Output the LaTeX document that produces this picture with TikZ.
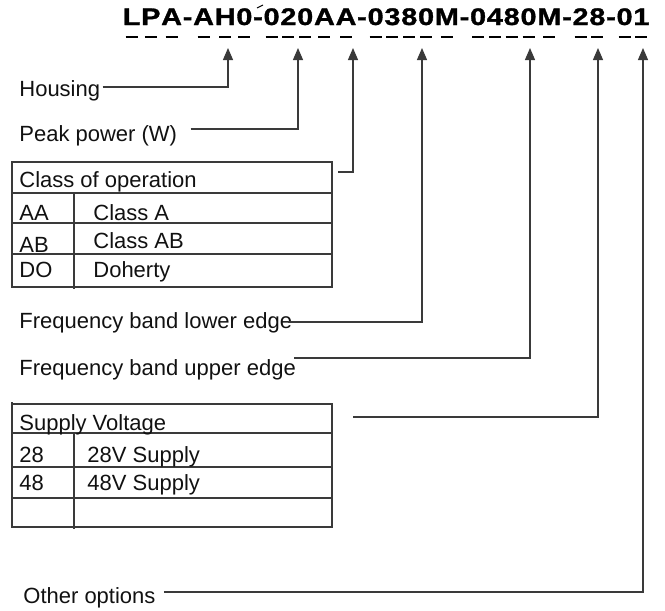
\documentclass[tikz,border=0pt]{standalone}
\usepackage{fontspec}
\setmainfont{Liberation Sans}[BoldFont={Liberation Sans Bold}]
\newfontfamily\pnfont{Liberation Sans Bold}[FakeBold=1.2]
\usetikzlibrary{arrows.meta,calc}
\definecolor{ink}{HTML}{111111}
\definecolor{rule}{HTML}{3A3A3A}
\tikzset{
  % plain label, placed by its baseline
  lbl/.style   = {inner sep=0pt, anchor=base west, font=\fontsize{11}{13}\selectfont, text=ink},
  tchar/.style = {inner sep=0pt, anchor=base west, font=\pnfont\fontsize{12}{14}\selectfont, text=black},
  ulbar/.style = {line width=1pt, black},
  lead/.style  = {-{Triangle[length=6pt,width=5pt]}, line width=0.6pt, rule},
  grid/.style  = {line width=0.6pt, rule},
}

\begin{document}
\begin{tikzpicture}[x=0.5pt,y=-0.5pt]
\useasboundingbox (0,0) rectangle (665,611);
% part number, one character at a time, dash under every field character
\node[inner sep=0pt, minimum size=0pt] (c0) at (122,25) {};
\foreach \c/\u [count=\i, remember=\i as \j (initially 0)] in
  {L/1,P/1,A/1,-/0,A/1,H/1,0/1,-/0,0/1,2/1,0/1,A/1,A/1,-/0,0/1,3/1,8/1,0/1,M/1,
   -/0,0/1,4/1,8/1,0/1,M/1,-/0,2/1,8/1,-/0,0/1,1/1}{
  \node[tchar] (c\i) at (c\j.base east) {\scalebox{1.2}[1]{\c}};
  \ifnum\u=1 \draw[ulbar] ($(c\i.base)+(-6,12)$) -- ++(12,0);\fi
}
\draw[line width=0.5pt] (257,8) -- (263,5);
% arrow tips
\coordinate (tHous)  at (228,48);
\coordinate (tPeak)  at (298,48);
\coordinate (tClass) at (353,48);
\coordinate (tLow)   at (422,48);
\coordinate (tUp)    at (530,48);
\coordinate (tVolt)  at (598,48);
\coordinate (tOpt)   at (643,48);
% labels
\node[lbl] (hous) at (19,96)  {Housing};
\node[lbl] (peak) at (19,141) {Peak power (W)};
\node[lbl] (flow) at (19,328) {Frequency band lower edge};
\node[lbl] (fup)  at (19,375) {Frequency band upper edge};
\node[lbl] (opt)  at (23,603) {Other options};
% class table
\draw[grid] (12,162) rectangle (332,287);
\draw[grid] (12,193) -- (332,193) (12,223) -- (332,223) (12,254) -- (332,254);
\draw[grid] (74,193) -- (74,289);
\node[lbl] (clsHead) at (19,187) {Class of operation};
\node[lbl] (clsAA)   at (19,220) {AA};
\node[lbl] (clsA)    at (93,220) {Class A};
\node[lbl] (clsAB)   at (19,252) {AB};
\node[lbl] (clsB)    at (93,248) {Class AB};
\node[lbl] (clsDO)   at (19,277) {DO};
\node[lbl] (clsD)    at (93,277) {Doherty};
\coordinate (clsEnd) at (338,172);
% supply table
\draw[grid] (12,404) rectangle (332,527);
\draw[grid] (12,402) -- (12,404);
\draw[grid] (12,433) -- (332,433) (12,467) -- (332,467) (12,498) -- (332,498);
\draw[grid] (74,433) -- (74,529);
\node[lbl] (supHead) at (19,430) {Supply Voltage};
\node[lbl] (sup28)   at (19,462) {28};
\node[lbl] (sup28t)  at (87,462) {28V Supply};
\node[lbl] (sup48)   at (19,490) {48};
\node[lbl] (sup48t)  at (87,490) {48V Supply};
\coordinate (supEnd) at (353,417);
% leaders
\draw[lead] ($(hous.base east)+(2,-9)$)   -| (tHous);
\draw[lead] ($(peak.base east)+(13,-12)$) -| (tPeak);
\draw[lead] (clsEnd) -| (tClass);
\draw[lead] ($(flow.base east)+(-5,-6)$)  -| (tLow);
\draw[lead] ($(fup.base east)+(-2,-17)$)  -| (tUp);
\draw[lead] (supEnd) -| (tVolt);
\draw[lead] ($(opt.base east)+(8,-11)$)   -| (tOpt);
\end{tikzpicture}
\end{document}
